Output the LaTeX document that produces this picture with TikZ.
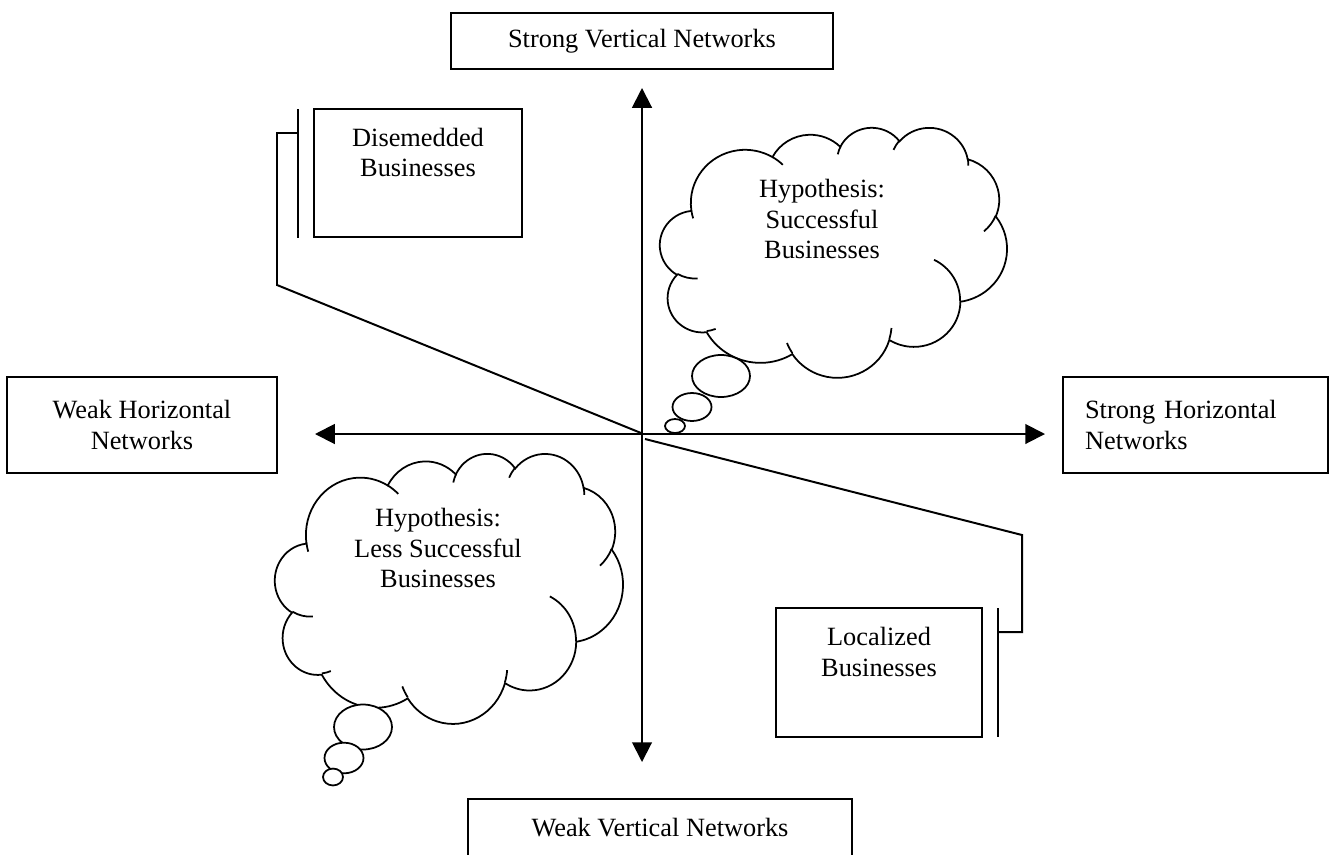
\documentclass[tikz,border=0pt]{standalone}
\usepackage{fontspec}
\setmainfont{Liberation Serif}
\usetikzlibrary{arrows.meta}
\usetikzlibrary{positioning}
\usetikzlibrary{shapes.geometric}

\tikzset{
  netbox/.style={draw,line width=0.9pt,inner sep=0pt,align=center,font=\fontsize{12}{13.8}\selectfont},
  bizbox/.style={draw,line width=0.9pt,inner sep=0pt},
  bizlabel/.style={align=center,inner sep=0pt,font=\fontsize{12}{13.8}\selectfont},
  leader/.style={line width=0.9pt},
  axis/.style={line width=0.9pt,arrows={Triangle[width=9pt,length=9pt]-Triangle[width=9pt,length=9pt]}},
  cloudline/.style={line width=0.8pt},
  bubble/.style={draw,ellipse,cloudline,fill=white,inner sep=0pt}
}

% thought cloud in a 43.2 x 43.2 frame
\newcommand{\thoughtcloud}{%
  \draw[cloudline,fill=white] (3.9,14.37)
    arc[start angle=-187.745,delta angle=128.105,x radius=6.753,y radius=9.19]
    arc[start angle=-152.03,delta angle=106.59,x radius=5.333,y radius=7.267]
    arc[start angle=-153.49,delta angle=116.17,x radius=4.365,y radius=5.945]
    arc[start angle=-139.70,delta angle=129.49,x radius=4.857,y radius=6.595]
    arc[start angle=-74.755,delta angle=97.965,x radius=5.333,y radius=7.273]
    arc[start angle=-37.55,delta angle=119.407,x radius=6.775,y radius=9.22]
    arc[start angle=0.4596,delta angle=121.51,x radius=5.785,y radius=7.867]
    arc[start angle=16.84,delta angle=129.405,x radius=6.752,y radius=9.215]
    arc[start angle=59.01,delta angle=91.155,x radius=7.72,y radius=10.543]
    arc[start angle=83.30,delta angle=139.79,x radius=4.36,y radius=5.918]
    arc[start angle=120.38,delta angle=143.73,x radius=4.345,y radius=5.945]
    -- cycle;
  \draw[cloudline] (4.693,26.177) arc[start angle=85.55,delta angle=34.83,x radius=4.345,y radius=5.945];
  \draw[cloudline] (6.928,34.899) arc[start angle=68.23,delta angle=15.07,x radius=4.36,y radius=5.918];
  \draw[cloudline] (16.478,39.09) arc[start angle=146.245,delta angle=12.235,x radius=6.752,y radius=9.215];
  \draw[cloudline] (28.827,34.751) arc[start angle=4.738,delta angle=12.10,x radius=6.752,y radius=9.215];
  \draw[cloudline] (34.129,22.954) arc[start angle=-63.98,delta angle=64.44,x radius=5.785,y radius=7.867];
  \draw[cloudline] (41.798,15.354) arc[start angle=23.21,delta angle=26.43,x radius=5.333,y radius=7.273];
  \draw[cloudline] (38.324,5.426) arc[start angle=-10.21,delta angle=11.03,x radius=4.857,y radius=6.595];
  \draw[cloudline] (29.078,3.952) arc[start angle=-156.28,delta angle=16.58,x radius=4.857,y radius=6.595];
  \draw[cloudline] (22.141,4.72) arc[start angle=-167.73,delta angle=14.24,x radius=4.365,y radius=5.945];
  \draw[cloudline] (14.0,5.192) arc[start angle=-59.64,delta angle=13.90,x radius=6.753,y radius=9.19];
  \draw[cloudline] (4.127,15.789) arc[start angle=163.20,delta angle=9.055,x radius=6.753,y radius=9.19];
}

\begin{document}
\begin{tikzpicture}[x=0.016cm,y=-0.016cm]
  \useasboundingbox (0,0) rectangle (1329,854);

  % network boxes
  \node[netbox,minimum width=6.112cm,minimum height=0.896cm] (svn) at (642,41) {Strong Vertical Networks};
  \node[netbox,minimum width=6.144cm,minimum height=0.928cm] (wvn) at (660,828) {Weak Vertical Networks};
  \node[netbox,minimum width=4.32cm,minimum height=1.536cm] (whn) at (142,425) {Weak Horizontal\\Networks};
  \node[netbox,align=left,text width=3.536cm,inner xsep=0.352cm,minimum height=1.536cm] (shn) at (1195.5,425) {Strong Horizontal\\Networks};

  % axes
  \coordinate (vtop) at (642,88);
  \coordinate (vbot) at (642,762);
  \coordinate (hleft) at (315,434);
  \coordinate (hright) at (1045,434);
  \draw[axis] (vtop) -- (vbot);
  \draw[axis] (hleft) -- (hright);

  % callout boxes
  \node[bizbox,minimum width=3.328cm,minimum height=2.048cm] (dbox) at (418,173) {};
  \node[bizlabel] (dtext) at (418,152.5) {Disemedded\\Businesses};
  \node[bizbox,minimum width=3.296cm,minimum height=2.064cm] (lbox) at (879,672.5) {};
  \node[bizlabel] (ltext) at (879,652) {Localized\\Businesses};

  \coordinate (dbartop) at (298,109);
  \coordinate (dbarbot) at (298,238);
  \coordinate (dknee) at (298,133);
  \coordinate (dbend1) at (277,133);
  \coordinate (dbend2) at (277,285);
  \coordinate (dend) at (641,433);
  \draw[leader] (dbartop) -- (dbarbot);
  \draw[leader] (dknee) -- (dbend1) -- (dbend2) -- (dend);

  \coordinate (lbartop) at (998,608);
  \coordinate (lbarbot) at (998,737);
  \coordinate (lknee) at (998,632);
  \coordinate (lbend1) at (1022,632);
  \coordinate (lbend2) at (1022,535);
  \coordinate (lend) at (645,439);
  \draw[leader] (lbartop) -- (lbarbot);
  \draw[leader] (lknee) -- (lbend1) -- (lbend2) -- (lend);

  % upper cloud
  \begin{scope}[shift={(660,127)},x=1cm,y=1cm,xscale=0.12852,yscale=-0.09259]
    \thoughtcloud
  \end{scope}
  \node[bubble,minimum width=0.928cm,minimum height=0.672cm] (ub1) at (721,376) {};
  \node[bubble,minimum width=0.624cm,minimum height=0.448cm] (ub2) at (692,407) {};
  \node[bubble,minimum width=0.32cm,minimum height=0.224cm] (ub3) at (675,426) {};
  \node[bizlabel] (uhyp) at (822,219) {Hypothesis:\\Successful\\Businesses};

  % lower cloud
  \begin{scope}[shift={(275,453)},x=1cm,y=1cm,xscale=0.12889,yscale=-0.1]
    \thoughtcloud
  \end{scope}
  \node[bubble,minimum width=0.928cm,minimum height=0.72cm] (lb1) at (363,727) {};
  \node[bubble,minimum width=0.624cm,minimum height=0.49cm] (lb2) at (344,758) {};
  \node[bubble,minimum width=0.32cm,minimum height=0.27cm] (lb3) at (333,777) {};
  \node[bizlabel] (lhyp) at (438,548) {Hypothesis:\\Less Successful\\Businesses};
\end{tikzpicture}
\end{document}
